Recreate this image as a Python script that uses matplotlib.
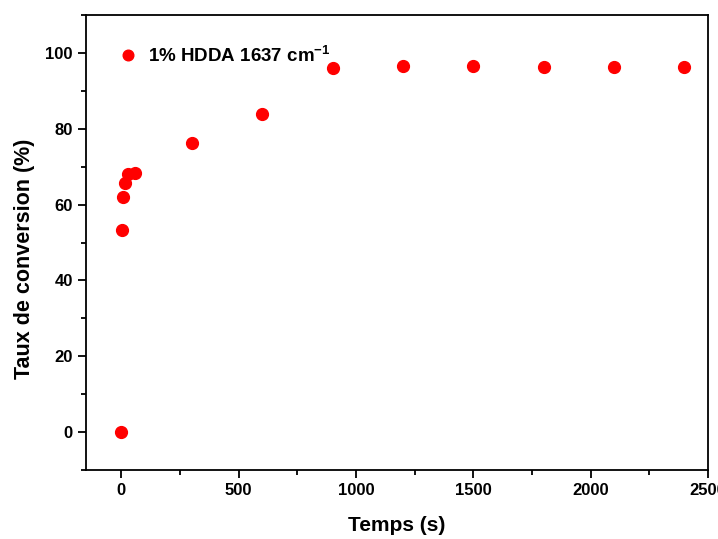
import matplotlib.pyplot as plt
from matplotlib.ticker import MultipleLocator

plt.rcParams['font.family'] = ['Liberation Sans', 'DejaVu Sans']
plt.rcParams['font.weight'] = 'bold'
plt.rcParams['mathtext.fontset'] = 'custom'
plt.rcParams['mathtext.bf'] = 'Liberation Sans:bold'
plt.rcParams['mathtext.rm'] = 'Liberation Sans:bold'
plt.rcParams['mathtext.default'] = 'bf'

# conversion data, 1% HDDA
temps = [0, 2, 5, 15, 30, 60, 300, 600, 900, 1200, 1500, 1800, 2100, 2400]
conversion = [0, 53.3, 62.1, 65.7, 68.0, 68.3, 76.2, 83.9, 96.0, 96.6, 96.6, 96.2, 96.2, 96.4]
serie_label = '1% HDDA 1637 cm$^{-1}$'

fig = plt.figure(figsize=(7.18, 5.39), dpi=100)
ax = fig.add_axes([0.120, 0.128, 0.866, 0.844])

ax.plot(temps, conversion, 'o', color='#ff0000', markersize=8.5, label=serie_label)

ax.set_xlim(-150, 2500)
ax.set_ylim(-10, 110)
ax.xaxis.set_major_locator(MultipleLocator(500))
ax.xaxis.set_minor_locator(MultipleLocator(250))
ax.yaxis.set_major_locator(MultipleLocator(20))
ax.yaxis.set_minor_locator(MultipleLocator(10))
ax.tick_params(which='major', direction='out', length=6, width=1.3, labelsize=12)
ax.tick_params(which='minor', direction='out', length=3.5, width=1.3)
for s in ax.spines.values():
    s.set_linewidth(1.3)

ax.set_xlabel('Temps (s)', fontsize=15, fontweight='bold', labelpad=13)
ax.set_ylabel('Taux de conversion (%)', fontsize=15.5, fontweight='bold')
ax.yaxis.set_label_coords(-0.083, 0.464)

leg = ax.legend(loc='upper left', frameon=False, fontsize=13.5, handletextpad=0.05,
                bbox_to_anchor=(0.01, 0.97), markerscale=0.9)
for t in leg.get_texts():
    t.set_fontweight('bold')

fig.savefig('out.png', dpi=100)
